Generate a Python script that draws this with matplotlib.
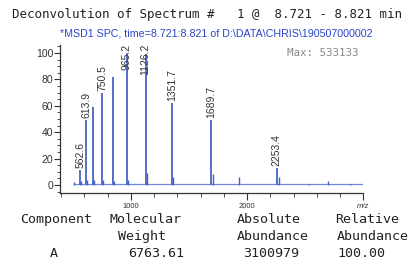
import matplotlib
matplotlib.use("Agg")
import matplotlib.pyplot as plt
from matplotlib.ticker import MultipleLocator, FixedLocator

# main charge-state peaks (m/z, relative height %)
peak_mz = [562.6, 613.9, 675.4, 750.5, 844.5, 965.2, 1126.2, 1351.7, 1689.7, 2253.4]
peak_height = [11, 49, 59, 70, 82, 100, 99, 62, 49, 13]
peak_labels = ["562.6", "613.9", "", "750.5", "", "965.2", "1126.2", "1351.7", "1689.7", "2253.4"]

# small side peaks / noise
minor_mz = [508, 568, 620, 682, 758, 853, 975, 1137, 1364, 1705, 1927, 2275, 2528, 2691, 2880]
minor_height = [2, 3, 4, 4, 4, 3, 4, 9, 6, 8, 6, 6, 1, 3, 1]

baseline_span = [510, 2990]

table_header1 = ["Component", "Molecular", "Absolute", "Relative"]
table_header2 = ["", "Weight", "Abundance", "Abundance"]
table_row = ["A", "6763.61", "3100979", "100.00"]

BLUE = "#4563c6"
MONO = "DejaVu Sans Mono"
SANS = "Liberation Sans"

fig = plt.figure(figsize=(4.14, 2.76), dpi=100)
fig.patch.set_facecolor("white")

fig.text(0.5, 0.946, "Deconvolution of Spectrum #   1 @  8.721 - 8.821 min",
         ha="center", va="center", fontsize=9, family=MONO, color="#222222")
fig.text(0.523, 0.880, "*MSD1 SPC, time=8.721:8.821 of D:\\DATA\\CHRIS\\190507000002",
         ha="center", va="center", fontsize=7.7, family=SANS, color="#2a44c8")

ax = fig.add_axes([0.145, 0.301, 0.733, 0.536])
ax.set_xlim(390, 3000)
ax.set_ylim(-6, 106)

ax.plot(baseline_span, [0.5, 0.5], color="#7088d8", lw=0.9)
ax.vlines(minor_mz, 0, minor_height, color=BLUE, lw=1.0)
ax.vlines(peak_mz, 0, peak_height, color=BLUE, lw=1.3)

top = 107
for mz, h, lab in zip(peak_mz, peak_height, peak_labels):
    if not lab:
        continue
    if h + 4 + 6.2 * len(lab) > top:
        ax.text(mz, top, lab, rotation=90, ha="center", va="top",
                fontsize=7.5, family=SANS, color="#333333")
    else:
        ax.text(mz, h + 1.5, lab, rotation=90, ha="center", va="bottom",
                fontsize=7.5, family=SANS, color="#333333")

ax.text(2345, 100, "Max: 533133", ha="left", va="center", fontsize=7.8,
        family=MONO, color="#888888")

for s in ["top", "right"]:
    ax.spines[s].set_visible(False)
for s in ["left", "bottom"]:
    ax.spines[s].set_color("#333333")
    ax.spines[s].set_linewidth(0.9)

ax.yaxis.set_major_locator(FixedLocator([0, 20, 40, 60, 80, 100]))
ax.yaxis.set_minor_locator(MultipleLocator(5))
ax.xaxis.set_major_locator(FixedLocator([1000, 2000, 3000]))
ax.xaxis.set_minor_locator(MultipleLocator(200))
ax.set_xticklabels(["1000", "2000", "m/z"])
ax.tick_params(axis="y", which="major", length=4, width=0.8, labelsize=7.5,
               colors="#333333", pad=1)
ax.tick_params(axis="y", which="minor", length=2, width=0.6, colors="#333333")
ax.tick_params(axis="x", which="major", length=5, width=0.8, labelsize=5.5,
               colors="#333333", pad=2)
ax.tick_params(axis="x", which="minor", length=3, width=0.6, colors="#333333")
for lab in ax.get_yticklabels() + ax.get_xticklabels():
    lab.set_family(SANS)
ax.get_xticklabels()[-1].set_style("italic")

# left edges (pixels) of each table cell, per row
W = 414.0
rows = [(table_header1, [20, 110, 237, 335], 0.203),
        (table_header2, [20, 118, 237, 337], 0.143),
        (table_row, [50, 128, 243, 337], 0.083)]
for texts, xs, y in rows:
    for t, x in zip(texts, xs):
        fig.text(x / W, y, t, ha="left", va="center", fontsize=9.6,
                 family=MONO, color="#222222")

fig.savefig("out.png", dpi=100, facecolor="white")
